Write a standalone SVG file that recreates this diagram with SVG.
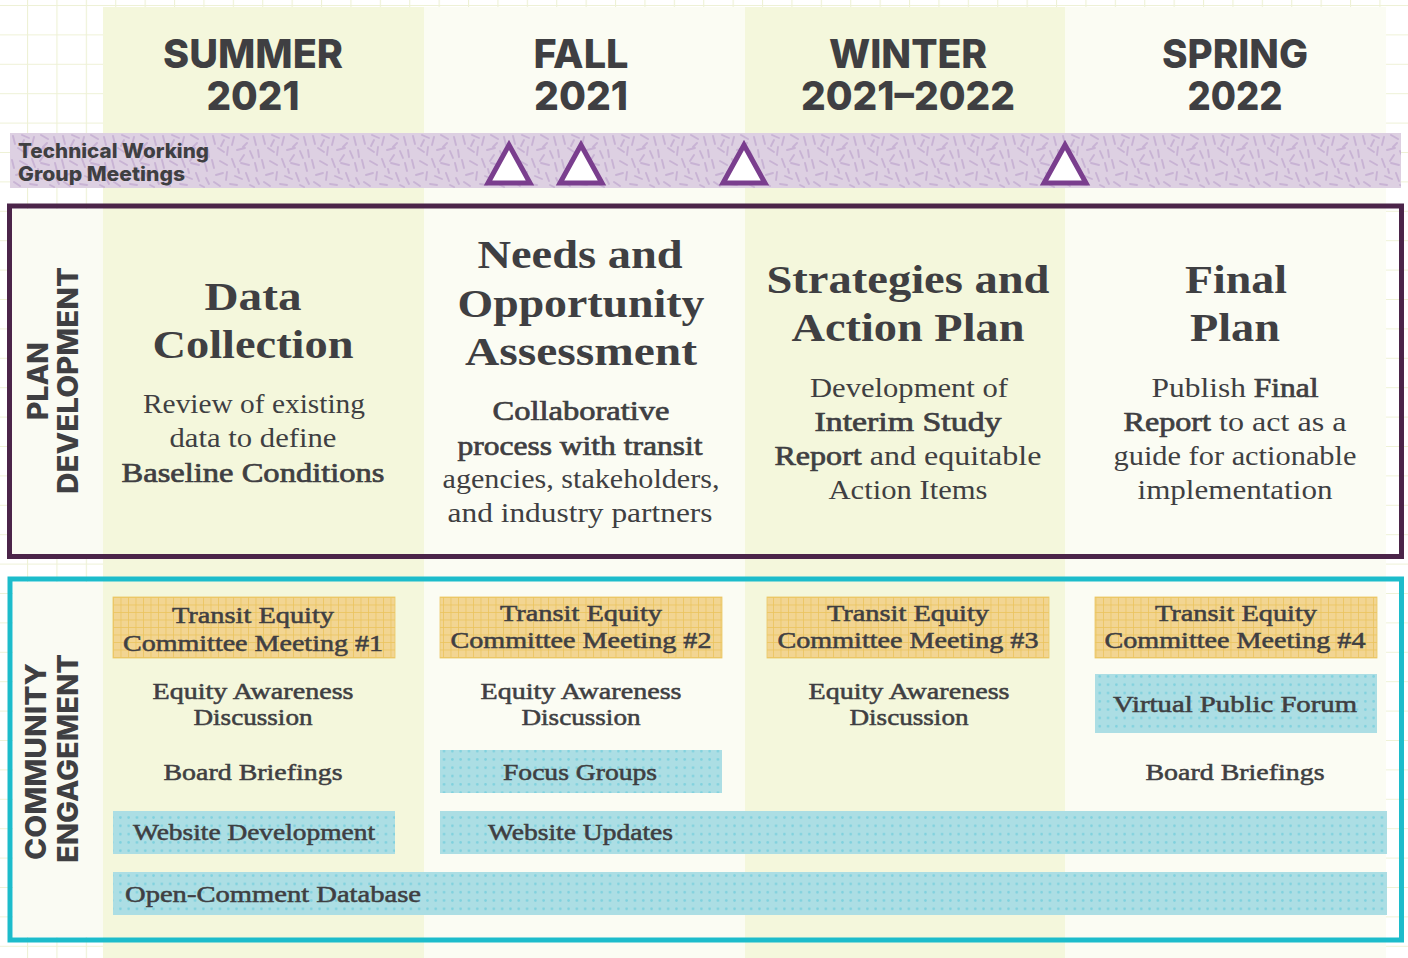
<svg xmlns="http://www.w3.org/2000/svg" width="1408" height="958" viewBox="0 0 1408 958">
<defs>
<pattern id="bggrid" patternUnits="userSpaceOnUse" x="27" y="5" width="29.4" height="29.4">
<path d="M0 0.5H29.4M0.5 0V29.4" stroke="#eef1d6" stroke-width="1.2" fill="none"/>
</pattern>
<pattern id="dashes" patternUnits="userSpaceOnUse" x="10" y="133" width="50" height="55">
<rect width="50" height="55" fill="#ddd0e2"/>
<g stroke="#c8b3d4" stroke-width="1.9" stroke-linecap="round">
<path d="M3 3L5 11M12 2L19 5M24 4L22 12M31 2L38 6M44 4L46 12M8 15L14 19M18 14L17 22M27 17L35 15M40 18L43 25M2 27L4 35M10 28L17 32M22 26L25 34M31 30L39 32M45 30L47 38M6 42L13 40M17 39L16 47M25 43L32 46M36 40L39 48M46 45L49 51M48 17L49 24M34 22L30 28M4 49L10 53M20 51L27 52M40 52L44 54M14 7L11 13M37 10L33 14M28 36L29 40"/>
</g>
</pattern>
<pattern id="ogrid" patternUnits="userSpaceOnUse" x="113" y="597" width="7.5" height="7.5">
<rect width="7.5" height="7.5" fill="#f2d592"/>
<path d="M0 0.4H7.5M0.4 0V7.5" stroke="#ebc45c" stroke-width="0.8" fill="none"/>
</pattern>
<pattern id="dots" patternUnits="userSpaceOnUse" x="0" y="0" width="8.3" height="8.3">
<rect width="8.3" height="8.3" fill="#acdee4"/>
<circle cx="4.15" cy="4.15" r="1.3" fill="#7fd1de"/>
</pattern>
<style>
text{fill:#3f3f42}
.hd{font-family:Inter,"Open Sans","DejaVu Sans",sans-serif;font-weight:800;font-size:40px;text-anchor:middle}
.side{font-family:Inter,"Open Sans","DejaVu Sans",sans-serif;font-weight:800;font-size:28px;text-anchor:middle}
.twg{font-family:Inter,"Open Sans","DejaVu Sans",sans-serif;font-weight:800;font-size:20px}
.ttl{font-family:"Liberation Serif",serif;font-weight:700;font-size:40px;text-anchor:middle}
.body{font-family:"Liberation Serif",serif;font-size:27px;text-anchor:middle}
.ce{font-family:"Liberation Serif",serif;font-size:24px;text-anchor:middle;stroke:#3f3f42;stroke-width:0.55}
.med{stroke:#3f3f42;stroke-width:0.7}
.tri{fill:#ffffff;stroke:#7a3e8e;stroke-width:5;stroke-linejoin:miter}
.org{fill:url(#ogrid);stroke:#ecc764;stroke-width:0.8}
.blu{fill:url(#dots)}
</style>
</defs>

<g id="background">
<rect width="1408" height="958" fill="#ffffff"/>
<rect width="1408" height="958" fill="url(#bggrid)"/>
<rect x="103" y="7" width="321" height="951" fill="#f4f7dc"/>
<rect x="424" y="7" width="321" height="951" fill="#fbfcf3"/>
<rect x="745" y="7" width="320" height="951" fill="#f4f7dc"/>
<rect x="1065" y="7" width="321" height="951" fill="#fbfcf3"/>
</g>

<g id="season-headers">
<g id="summer-2021">
<text class="hd" x="253" y="68" textLength="180" lengthAdjust="spacingAndGlyphs">SUMMER</text>
<text class="hd" x="253" y="110" textLength="93" lengthAdjust="spacingAndGlyphs">2021</text>
</g>
<g id="fall-2021">
<text class="hd" x="581" y="68" textLength="95" lengthAdjust="spacingAndGlyphs">FALL</text>
<text class="hd" x="581" y="110" textLength="94" lengthAdjust="spacingAndGlyphs">2021</text>
</g>
<g id="winter-2021-2022">
<text class="hd" x="908" y="68" textLength="158" lengthAdjust="spacingAndGlyphs">WINTER</text>
<text class="hd" x="908" y="110" textLength="214" lengthAdjust="spacingAndGlyphs">2021–2022</text>
</g>
<g id="spring-2022">
<text class="hd" x="1235" y="68" textLength="146" lengthAdjust="spacingAndGlyphs">SPRING</text>
<text class="hd" x="1235" y="110" textLength="95" lengthAdjust="spacingAndGlyphs">2022</text>
</g>
</g>

<g id="technical-working-group">
<rect x="10" y="133" width="1391" height="55" fill="url(#dashes)"/>
<text class="twg" x="18" y="158" textLength="191" lengthAdjust="spacingAndGlyphs">Technical Working</text>
<text class="twg" x="18" y="181" textLength="167" lengthAdjust="spacingAndGlyphs">Group Meetings</text>
<polygon class="tri" points="509,145 488,183 530,183"/>
<polygon class="tri" points="581,145 560,183 602,183"/>
<polygon class="tri" points="744,145 723,183 765,183"/>
<polygon class="tri" points="1065,145 1044,183 1086,183"/>
</g>

<g id="plan-development">
<rect x="12" y="209" width="91" height="345" fill="#fafbf3"/>
<rect x="9.5" y="206" width="1392" height="350.5" fill="none" stroke="#4b2449" stroke-width="5"/>
<text class="side" transform="translate(48,381) rotate(-90)" textLength="78" lengthAdjust="spacingAndGlyphs">PLAN</text>
<text class="side" transform="translate(78,380.5) rotate(-90)" textLength="227" lengthAdjust="spacingAndGlyphs">DEVELOPMENT</text>
</g>

<g id="data-collection">
<text class="ttl" x="253" y="310" textLength="97" lengthAdjust="spacingAndGlyphs">Data</text>
<text class="ttl" x="253" y="358" textLength="201" lengthAdjust="spacingAndGlyphs">Collection</text>
<text class="body" x="254" y="413" textLength="222" lengthAdjust="spacingAndGlyphs">Review of existing</text>
<text class="body" x="253" y="447" textLength="167" lengthAdjust="spacingAndGlyphs">data to define</text>
<text class="body med" x="253" y="482" textLength="263" lengthAdjust="spacingAndGlyphs">Baseline Conditions</text>
</g>

<g id="needs-opportunity-assessment">
<text class="ttl" x="580" y="268" textLength="205" lengthAdjust="spacingAndGlyphs">Needs and</text>
<text class="ttl" x="581" y="317" textLength="247" lengthAdjust="spacingAndGlyphs">Opportunity</text>
<text class="ttl" x="581" y="365" textLength="232" lengthAdjust="spacingAndGlyphs">Assessment</text>
<text class="body med" x="581" y="420" textLength="177" lengthAdjust="spacingAndGlyphs">Collaborative</text>
<text class="body med" x="580" y="455" textLength="245" lengthAdjust="spacingAndGlyphs">process with transit</text>
<text class="body" x="581" y="488" textLength="277" lengthAdjust="spacingAndGlyphs">agencies, stakeholders,</text>
<text class="body" x="580" y="522" textLength="265" lengthAdjust="spacingAndGlyphs">and industry partners</text>
</g>

<g id="strategies-action-plan">
<text class="ttl" x="908" y="293" textLength="283" lengthAdjust="spacingAndGlyphs">Strategies and</text>
<text class="ttl" x="908" y="341" textLength="233" lengthAdjust="spacingAndGlyphs">Action Plan</text>
<text class="body" x="909" y="397" textLength="198" lengthAdjust="spacingAndGlyphs">Development of</text>
<text class="body med" x="908" y="431" textLength="187" lengthAdjust="spacingAndGlyphs">Interim Study</text>
<text class="body" x="908" y="465" textLength="267" lengthAdjust="spacingAndGlyphs"><tspan class="med">Report</tspan> and equitable</text>
<text class="body" x="908" y="499" textLength="159" lengthAdjust="spacingAndGlyphs">Action Items</text>
</g>

<g id="final-plan">
<text class="ttl" x="1236" y="293" textLength="102" lengthAdjust="spacingAndGlyphs">Final</text>
<text class="ttl" x="1235" y="341" textLength="90" lengthAdjust="spacingAndGlyphs">Plan</text>
<text class="body" x="1235" y="397" textLength="167" lengthAdjust="spacingAndGlyphs">Publish <tspan class="med">Final</tspan></text>
<text class="body" x="1235" y="431" textLength="223" lengthAdjust="spacingAndGlyphs"><tspan class="med">Report</tspan> to act as a</text>
<text class="body" x="1235" y="465" textLength="243" lengthAdjust="spacingAndGlyphs">guide for actionable</text>
<text class="body" x="1235" y="499" textLength="195" lengthAdjust="spacingAndGlyphs">implementation</text>
</g>

<g id="community-engagement">
<rect x="13" y="582" width="90" height="355" fill="#fafbf3"/>
<rect x="10" y="579" width="1391.5" height="361" fill="none" stroke="#1cbccb" stroke-width="5"/>
<text class="side" transform="translate(46,761.5) rotate(-90)" textLength="197" lengthAdjust="spacingAndGlyphs">COMMUNITY</text>
<text class="side" transform="translate(78,758.5) rotate(-90)" textLength="209" lengthAdjust="spacingAndGlyphs">ENGAGEMENT</text>
</g>

<g id="tec-meeting-1">
<rect class="org" x="113" y="597" width="282" height="61"/>
<text class="ce" x="253" y="623" textLength="162" lengthAdjust="spacingAndGlyphs">Transit Equity</text>
<text class="ce" x="253" y="651" textLength="260" lengthAdjust="spacingAndGlyphs">Committee Meeting #1</text>
</g>
<g id="tec-meeting-2">
<rect class="org" x="440" y="597" width="282" height="61"/>
<text class="ce" x="581" y="621" textLength="162" lengthAdjust="spacingAndGlyphs">Transit Equity</text>
<text class="ce" x="581" y="648" textLength="261" lengthAdjust="spacingAndGlyphs">Committee Meeting #2</text>
</g>
<g id="tec-meeting-3">
<rect class="org" x="767" y="597" width="282" height="61"/>
<text class="ce" x="908" y="621" textLength="162" lengthAdjust="spacingAndGlyphs">Transit Equity</text>
<text class="ce" x="908" y="648" textLength="261" lengthAdjust="spacingAndGlyphs">Committee Meeting #3</text>
</g>
<g id="tec-meeting-4">
<rect class="org" x="1095" y="597" width="282" height="61"/>
<text class="ce" x="1236" y="621" textLength="162" lengthAdjust="spacingAndGlyphs">Transit Equity</text>
<text class="ce" x="1235" y="648" textLength="261" lengthAdjust="spacingAndGlyphs">Committee Meeting #4</text>
</g>

<g id="equity-awareness-1">
<text class="ce" x="253" y="699" textLength="201" lengthAdjust="spacingAndGlyphs">Equity Awareness</text>
<text class="ce" x="253" y="725" textLength="119" lengthAdjust="spacingAndGlyphs">Discussion</text>
</g>
<g id="equity-awareness-2">
<text class="ce" x="581" y="699" textLength="201" lengthAdjust="spacingAndGlyphs">Equity Awareness</text>
<text class="ce" x="581" y="725" textLength="119" lengthAdjust="spacingAndGlyphs">Discussion</text>
</g>
<g id="equity-awareness-3">
<text class="ce" x="909" y="699" textLength="201" lengthAdjust="spacingAndGlyphs">Equity Awareness</text>
<text class="ce" x="909" y="725" textLength="119" lengthAdjust="spacingAndGlyphs">Discussion</text>
</g>

<g id="virtual-public-forum">
<rect class="blu" x="1095" y="674" width="282" height="59"/>
<text class="ce" x="1235" y="712" textLength="244" lengthAdjust="spacingAndGlyphs">Virtual Public Forum</text>
</g>

<g id="board-briefings-1">
<text class="ce" x="253" y="780" textLength="179" lengthAdjust="spacingAndGlyphs">Board Briefings</text>
</g>
<g id="focus-groups">
<rect class="blu" x="440" y="750" width="282" height="43"/>
<text class="ce" x="580" y="780" textLength="154" lengthAdjust="spacingAndGlyphs">Focus Groups</text>
</g>
<g id="board-briefings-4">
<text class="ce" x="1235" y="780" textLength="179" lengthAdjust="spacingAndGlyphs">Board Briefings</text>
</g>

<g id="website-development">
<rect class="blu" x="113" y="811" width="282" height="43"/>
<text class="ce" x="254" y="840" textLength="242" lengthAdjust="spacingAndGlyphs">Website Development</text>
</g>
<g id="website-updates">
<rect class="blu" x="440" y="811" width="947" height="43"/>
<text class="ce" x="580.5" y="840" textLength="185" lengthAdjust="spacingAndGlyphs">Website Updates</text>
</g>
<g id="open-comment-database">
<rect class="blu" x="113" y="872" width="1274" height="43"/>
<text class="ce" x="125" y="902" style="text-anchor:start" textLength="296" lengthAdjust="spacingAndGlyphs">Open-Comment Database</text>
</g>

<g id="connectors"></g>
</svg>
